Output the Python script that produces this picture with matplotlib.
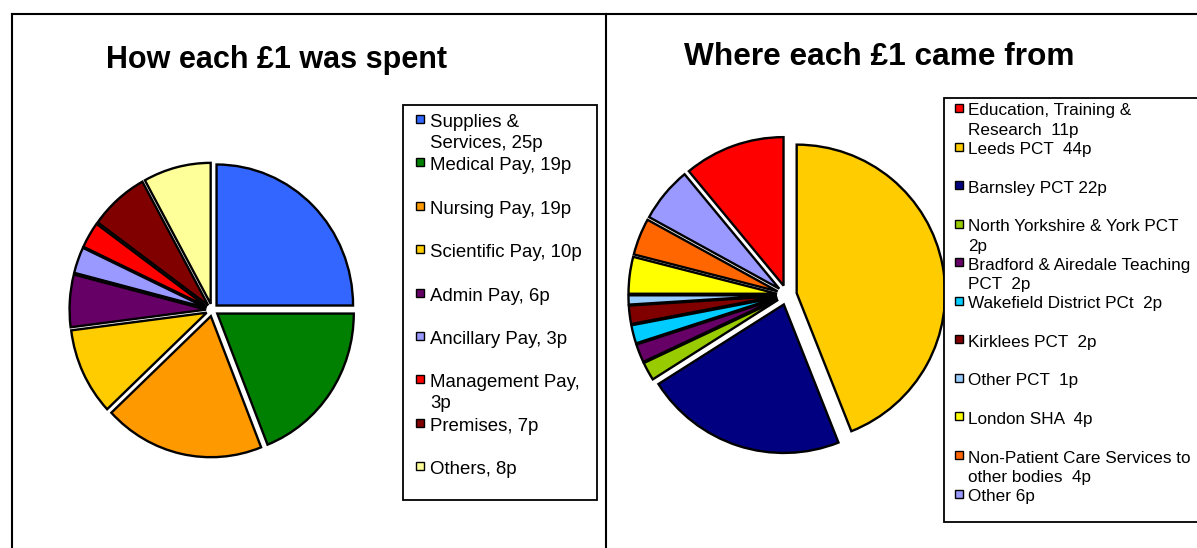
import matplotlib
matplotlib.use("Agg")
import matplotlib.pyplot as plt
from matplotlib.patches import Rectangle
from matplotlib.lines import Line2D

# ---------------- data ----------------
spent_labels = ["Supplies &\nServices, 25p", "Medical Pay, 19p", "Nursing Pay, 19p",
                "Scientific Pay, 10p", "Admin Pay, 6p", "Ancillary Pay, 3p",
                "Management Pay,\n3p", "Premises, 7p", "Others, 8p"]
spent_values = [25, 19, 19, 10, 6, 3, 3, 7, 8]
spent_colors = ["#3366FF", "#008000", "#FF9900", "#FFCC00", "#660066",
                "#9999FF", "#FF0000", "#800000", "#FFFF99"]

came_labels = ["Education, Training &\nResearch  11p", "Leeds PCT  44p", "Barnsley PCT 22p",
               "North Yorkshire & York PCT\n2p", "Bradford & Airedale Teaching\nPCT  2p",
               "Wakefield District PCt  2p", "Kirklees PCT  2p", "Other PCT  1p",
               "London SHA  4p", "Non-Patient Care Services to\nother bodies  4p", "Other 6p"]
came_values = [11, 44, 22, 2, 2, 2, 2, 1, 4, 4, 6]
came_colors = ["#FF0000", "#FFCC00", "#000080", "#99CC00", "#660066", "#00CCFF",
               "#800000", "#99CCFF", "#FFFF00", "#FF6600", "#9999FF"]

titles = ["How each £1 was spent", "Where each £1 came from"]

# ---------------- figure ----------------
W, H = 1197, 548
plt.rcParams['font.family'] = ['Liberation Sans', 'DejaVu Sans']
fig = plt.figure(figsize=(W / 100, H / 100), dpi=100)
fig.patch.set_facecolor("white")


def fx(x):
    return x / W


def fy(y):
    return 1 - y / H


def pie_axes(cx, cy, rx, ry, lim=1.2):
    w = 2 * lim * rx
    h = 2 * lim * ry
    ax = fig.add_axes([fx(cx - w / 2), fy(cy + h / 2), w / W, h / H])
    return ax


# panel borders
lw_border = 1.5
fig.add_artist(Line2D([fx(12), fx(1200)], [fy(14), fy(14)], color="black", lw=lw_border,
                      transform=fig.transFigure))
fig.add_artist(Line2D([fx(12), fx(12)], [fy(14), fy(560)], color="black", lw=lw_border,
                      transform=fig.transFigure))
fig.add_artist(Line2D([fx(606), fx(606)], [fy(14), fy(560)], color="black", lw=lw_border,
                      transform=fig.transFigure))

# titles
fig.text(fx(276), fy(68), titles[0], ha="center", va="baseline", fontsize=22,
         fontweight="bold")
fig.text(fx(879), fy(65), titles[1], ha="center", va="baseline", fontsize=22.8,
         fontweight="bold")

# left pie
lim = 1.2
ax1 = pie_axes(212.2, 310, 136.5, 141, lim)
ax1.pie(spent_values, colors=spent_colors, startangle=90, counterclock=False,
        explode=[0.045] * len(spent_values),
        wedgeprops=dict(edgecolor="black", linewidth=1.7))
ax1.set_aspect("auto")
ax1.set_xlim(-lim, lim)
ax1.set_ylim(-lim, lim)
ax1.axis("off")

# right pie
ax2 = pie_axes(786.9, 295, 148.5, 148.5, lim)
start = 90 + came_values[0] * 3.6
ax2.pie(came_values, colors=came_colors, startangle=start, counterclock=False,
        explode=[0.067] * len(came_values),
        wedgeprops=dict(edgecolor="black", linewidth=1.7))
ax2.set_aspect("auto")
ax2.set_xlim(-lim, lim)
ax2.set_ylim(-lim, lim)
ax2.axis("off")


# legends drawn in figure pixels
def legend(box, labels, colors, y0, step, line_h, mx, msize, tx, fontsize, base_off):
    x0, y_top, x1, y_bot = box
    fig.add_artist(Rectangle((fx(x0), fy(y_bot)), fx(x1) - fx(x0), fy(y_top) - fy(y_bot),
                             transform=fig.transFigure, facecolor="white",
                             edgecolor="black", lw=1.3, zorder=5))
    for i, (lab, col) in enumerate(zip(labels, colors)):
        yc = y0 + i * step
        fig.add_artist(Rectangle((fx(mx), fy(yc - 2 + msize / 2)), msize / W, msize / H,
                                 transform=fig.transFigure, facecolor=col,
                                 edgecolor="black", lw=1.0, zorder=6))
        for j, line in enumerate(lab.split("\n")):
            fig.text(fx(tx), fy(yc + j * line_h + base_off), line, ha="left",
                     va="baseline", fontsize=fontsize, zorder=7)


legend((403, 105, 597, 500), spent_labels, spent_colors, 121, 43.4, 21,
       416, 8, 430, 13.4, 6)
legend((944, 98, 1210, 522), came_labels, came_colors, 110, 38.56, 19.5,
       955, 8, 968, 12.3, 5.5)

fig.savefig("out.png", dpi=100)
